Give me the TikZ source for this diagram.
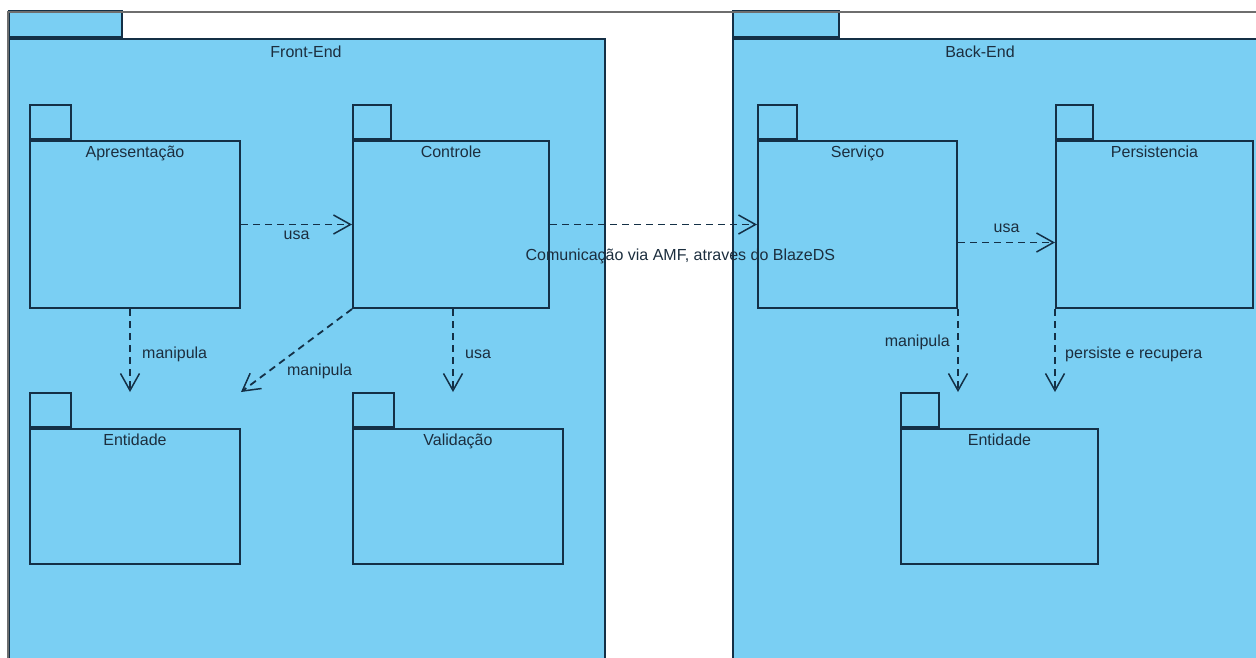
\documentclass[tikz,border=0pt]{standalone}
\usepackage{fontspec}
\setmainfont{Liberation Sans}
\usetikzlibrary{positioning,arrows.meta}
\definecolor{pkgfill}{RGB}{122,207,243}
\definecolor{pkgline}{RGB}{20,48,70}
\definecolor{pkgtext}{RGB}{28,46,62}
\definecolor{frameline}{RGB}{110,110,110}
\begin{document}
\begin{tikzpicture}[x=1pt, y=-1pt,
    every node/.style={font=\fontsize{16}{19}\selectfont, text=pkgtext},
    pkg/.style={draw=pkgline, fill=pkgfill, line width=2pt, inner sep=0pt, anchor=north west},
    pkgtab/.style={pkg, anchor=south west},
    dep/.style={draw=pkgline, line width=1.8pt, dash pattern=on 7pt off 5pt,
      -{Straight Barb[length=17pt, width=19pt, line width=1.5pt]}}]
      \useasboundingbox (0,0) rectangle (1256,657);
      \clip (0,0) rectangle (1256,657);

      % Front-End package
      \node[pkg, minimum width=596, minimum height=630] (fe) at (8,38) {};
      \node[pkgtab, minimum width=113, minimum height=26] (feTab) at (fe.north west) {};
      \node (feName) at (306,52) {Front-End};

      % Back-End package
      \node[pkg, minimum width=530, minimum height=630] (be) at (732,38) {};
      \node[pkgtab, minimum width=106, minimum height=26] (beTab) at (be.north west) {};
      \node (beName) at (980,52) {Back-End};

      % frame
      \draw[frameline, line width=1.2pt] (8,660) |- (1256,12);

      % Apresentacao
      \node[pkg, minimum width=210, minimum height=167] (apres) at (29,140) {};
      \node[pkgtab, minimum width=41, minimum height=34] (apresTab) at (apres.north west) {};
      \node[below=2pt of apres.north] (apresName) {Apresentação};

      % Controle
      \node[pkg, minimum width=196, minimum height=167] (ctrl) at (352,140) {};
      \node[pkgtab, minimum width=38, minimum height=34] (ctrlTab) at (ctrl.north west) {};
      \node[below=2pt of ctrl.north] (ctrlName) {Controle};

      % Entidade (front)
      \node[pkg, minimum width=210, minimum height=135] (entFE) at (29,428) {};
      \node[pkgtab, minimum width=41, minimum height=34] (entFETab) at (entFE.north west) {};
      \node[below=2pt of entFE.north] (entFEName) {Entidade};

      % Validacao
      \node[pkg, minimum width=210, minimum height=135] (valid) at (352,428) {};
      \node[pkgtab, minimum width=41, minimum height=34] (validTab) at (valid.north west) {};
      \node[below=2pt of valid.north] (validName) {Validação};

      % Servico
      \node[pkg, minimum width=199, minimum height=167] (serv) at (757,140) {};
      \node[pkgtab, minimum width=39, minimum height=34] (servTab) at (serv.north west) {};
      \node[below=2pt of serv.north] (servName) {Serviço};

      % Persistencia
      \node[pkg, minimum width=197, minimum height=167] (persist) at (1055,140) {};
      \node[pkgtab, minimum width=37, minimum height=34] (persistTab) at (persist.north west) {};
      \node[below=2pt of persist.north] (persistName) {Persistencia};

      % Entidade (back)
      \node[pkg, minimum width=197, minimum height=135] (entBE) at (900,428) {};
      \node[pkgtab, minimum width=38, minimum height=34] (entBETab) at (entBE.north west) {};
      \node[below=2pt of entBE.north] (entBEName) {Entidade};

      % dependencies
      \coordinate (apresOut) at ([xshift=-5pt]apres.south);
      \coordinate (ctrlOut) at ([xshift=2pt]ctrl.south);
      \coordinate (servOut) at ([yshift=-18pt]serv.east);

      \draw[dep] (apres.east) -- node[below=2pt] (usaA) {usa} (ctrl.west);
      \draw[dep] (ctrl.east) -- node[pos=0.63, below=20pt] (amf) {Comunicação via AMF, atraves do BlazeDS} (serv.west);
      \draw[dep] (servOut) -- node[above=6pt] (usaB) {usa} (servOut -| persist.west);
      \draw[dep] (apresOut) -- node[pos=0.55, right=8pt] (manipA) {manipula} (apresOut |- entFETab.north);
      \draw[dep] (ctrlOut) -- node[pos=0.55, right=8pt] (usaC) {usa} (ctrlOut |- validTab.north);
      \draw[dep] (ctrl.south west) -- node[pos=0.62, anchor=north west, inner sep=3pt] (manipB) {manipula} (entFE.north east |- entFETab.north);
      \draw[dep] (serv.south east) -- node[pos=0.4, left=4pt] (manipC) {manipula} (serv.south east |- entBETab.north);
      \draw[dep] (persist.south west) -- node[pos=0.55, right=6pt] (persiste) {persiste e recupera} (persist.south west |- entBETab.north);
    \end{tikzpicture}
\end{document}
